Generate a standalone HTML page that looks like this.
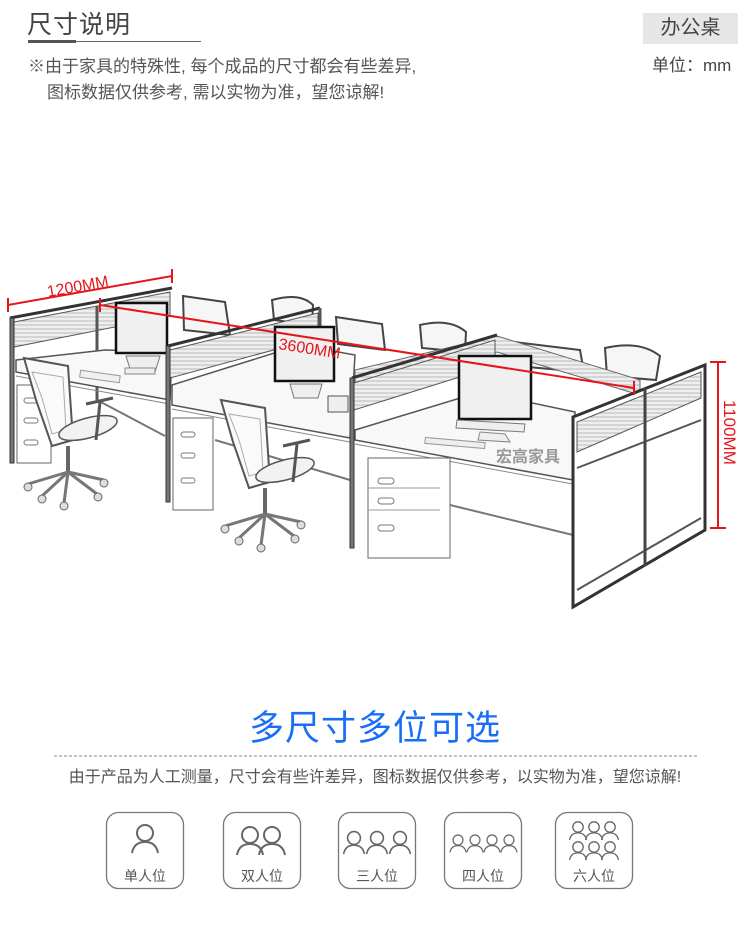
<!DOCTYPE html>
<html><head><meta charset="utf-8"><style>
body{margin:0;background:#fff;}
#w{position:relative;width:750px;height:941px;overflow:hidden;font-family:"Liberation Sans","Noto Sans CJK SC",sans-serif;color:#555;}
.a{position:absolute;white-space:nowrap;}
</style></head><body><div id="w">
<div class="a" style="left:27px;top:5px;font-size:25px;color:#444;letter-spacing:1px">尺寸说明</div>
<div class="a" style="left:28px;top:40px;width:48px;height:3px;background:#555"></div>
<div class="a" style="left:76px;top:41px;width:125px;height:1px;background:#666"></div>
<div class="a" style="left:28px;top:52px;font-size:17px">※由于家具的特殊性, 每个成品的尺寸都会有些差异,</div>
<div class="a" style="left:47px;top:78px;font-size:17px">图标数据仅供参考, 需以实物为准，望您谅解!</div>
<div class="a" style="left:643px;top:13px;width:95px;height:31px;background:#e6e6e6;font-size:20px;color:#444;text-align:center;line-height:31px">办公桌</div>
<div class="a" style="left:652px;top:51px;font-size:17px;color:#444">单位：mm</div>

<svg class="a" style="left:0;top:0" width="750" height="941" viewBox="0 0 750 941">
<defs>
<pattern id="gl" width="6" height="4" patternUnits="userSpaceOnUse"><rect width="6" height="4" fill="#eee"/><line x1="0" y1="1" x2="6" y2="1" stroke="#bbb" stroke-width="1"/></pattern>
<g id="ch">
<polygon points="24,358 68,366 73,440 52,446 36,400" fill="#fafafa" stroke="#555" stroke-width="2"/>
<polygon points="32,372 63,377 66,430 52,434 42,398" fill="none" stroke="#aaa" stroke-width="1"/>
<ellipse cx="88" cy="428" rx="30" ry="10" transform="rotate(-15 88 428)" fill="#f2f2f2" stroke="#555" stroke-width="1.5"/>
<path d="M86,404 L113,398 M100,402 L96,440" stroke="#555" stroke-width="3" fill="none"/>
<line x1="68" y1="446" x2="68" y2="472" stroke="#666" stroke-width="4"/>
<g stroke="#777" stroke-width="3" fill="none"><line x1="68" y1="472" x2="28" y2="484"/><line x1="68" y1="472" x2="42" y2="496"/><line x1="68" y1="472" x2="64" y2="503"/><line x1="68" y1="472" x2="97" y2="494"/><line x1="68" y1="472" x2="104" y2="480"/></g>
<g fill="#ddd" stroke="#666"><circle cx="28" cy="487" r="4"/><circle cx="42" cy="499" r="4"/><circle cx="64" cy="506" r="4"/><circle cx="98" cy="497" r="4"/><circle cx="104" cy="483" r="4"/></g>
</g>
</defs>
<g fill="#f6f6f6" stroke="#444" stroke-width="2">
<path d="M183,296 L225,302 L230,335 L184,330 Z"/>
<path d="M272,300 Q300,292 313,305 L312,325 L274,320 Z"/>
<path d="M336,317 L382,324 L385,350 L338,344 Z"/>
<path d="M420,325 Q450,318 466,332 L465,352 L422,348 Z"/>
<path d="M514,342 L580,350 L584,372 L516,366 Z"/>
<path d="M605,348 Q640,340 660,356 L656,380 L607,376 Z"/>
</g>
<polygon points="14,322 170,292 170,316 14,347" fill="url(#gl)" stroke="#555"/>
<line x1="10" y1="318" x2="172" y2="288" stroke="#333" stroke-width="3"/>
<rect x="10" y="318" width="4" height="145" fill="#777" stroke="#333"/>
<line x1="97" y1="306" x2="97" y2="400" stroke="#555" stroke-width="3"/>
<polygon points="16,360 105,350 172,352 170,400 16,372" fill="#f8f8f8" stroke="#555" stroke-width="1.5"/>
<line x1="16" y1="376" x2="170" y2="404" stroke="#888"/>
<line x1="97" y1="400" x2="165" y2="436" stroke="#777" stroke-width="2"/>
<rect x="17" y="385" width="34" height="78" fill="#fff" stroke="#666"/>
<g stroke="#777" fill="none"><rect x="24" y="398" width="14" height="5" rx="2.5"/><rect x="24" y="418" width="14" height="5" rx="2.5"/><rect x="24" y="440" width="14" height="5" rx="2.5"/></g>
<rect x="116" y="303" width="51" height="50" fill="#f0f0f0" stroke="#111" stroke-width="2.5"/>
<path d="M126,356 L160,356 L155,372 L131,372 Z" fill="#eee" stroke="#777"/>
<rect x="125" y="368" width="30" height="6" fill="#eee" stroke="#888"/>
<rect x="80" y="373" width="40" height="7" fill="#f0f0f0" stroke="#999" transform="rotate(8 100 376)"/>
<use href="#ch"/>
<polygon points="172,385 300,345 355,355 350,438 172,405" fill="#f8f8f8" stroke="#555" stroke-width="1.5"/>
<line x1="172" y1="409" x2="350" y2="442" stroke="#888"/>
<polygon points="170,350 318,313 318,338 170,378" fill="url(#gl)" stroke="#555"/>
<line x1="168" y1="346" x2="320" y2="308" stroke="#333" stroke-width="3"/>
<line x1="320" y1="308" x2="320" y2="340" stroke="#555" stroke-width="3"/>
<rect x="166" y="346" width="4" height="156" fill="#777" stroke="#333"/>
<line x1="215" y1="440" x2="350" y2="480" stroke="#777" stroke-width="2"/>
<rect x="173" y="418" width="40" height="92" fill="#fff" stroke="#666"/>
<g stroke="#777" fill="none"><rect x="181" y="432" width="14" height="5" rx="2.5"/><rect x="181" y="453" width="14" height="5" rx="2.5"/><rect x="181" y="478" width="14" height="5" rx="2.5"/></g>
<rect x="275" y="327" width="59" height="54" fill="#f0f0f0" stroke="#111" stroke-width="2.5"/>
<path d="M290,384 L322,384 L318,398 L294,398 Z" fill="#eee" stroke="#777"/>
<rect x="328" y="396" width="20" height="16" fill="#eee" stroke="#555"/>
<use href="#ch" transform="translate(197,42)"/>
<polygon points="355,370 497,336 640,380 640,395 497,352 355,395" fill="url(#gl)" stroke="#666"/>
<polygon points="355,430 480,392 575,412 573,480 355,440" fill="#f8f8f8" stroke="#555" stroke-width="1.5"/>
<line x1="355" y1="444" x2="573" y2="484" stroke="#888"/>
<line x1="450" y1="505" x2="573" y2="535" stroke="#777" stroke-width="2"/>
<polygon points="354,383 495,340 495,366 354,410" fill="url(#gl)" stroke="#555"/>
<line x1="352" y1="378" x2="497" y2="335" stroke="#333" stroke-width="3"/>
<rect x="350" y="378" width="4" height="170" fill="#777" stroke="#333"/>
<rect x="368" y="458" width="82" height="100" fill="#fff" stroke="#666"/>
<line x1="368" y1="488" x2="440" y2="488" stroke="#999"/><line x1="368" y1="510" x2="440" y2="510" stroke="#999"/>
<g stroke="#777" fill="none"><rect x="378" y="478" width="16" height="6" rx="3"/><rect x="378" y="498" width="16" height="6" rx="3"/><rect x="378" y="525" width="16" height="6" rx="3"/></g>
<rect x="459" y="356" width="72" height="63" fill="#f0f0f0" stroke="#111" stroke-width="2.5"/>
<path d="M457,420 L525,424 L524,432 L456,428 Z" fill="#eee" stroke="#777"/>
<path d="M480,432 L505,434 L510,442 L478,440 Z" fill="#eee" stroke="#888"/>
<rect x="425" y="440" width="60" height="6" fill="#eee" stroke="#999" transform="rotate(5 455 443)"/>
<text x="496" y="462" font-size="16" fill="#999" font-weight="bold" font-family="Liberation Sans,Noto Sans CJK SC,sans-serif">宏高家具</text>
<polygon points="573,417 705,365 705,530 573,607" fill="#fff" stroke="#333" stroke-width="3"/>
<polygon points="577,422 701,372 701,398 577,452" fill="url(#gl)" stroke="#555"/>
<line x1="577" y1="468" x2="701" y2="420" stroke="#555" stroke-width="2"/>
<line x1="577" y1="590" x2="701" y2="518" stroke="#555" stroke-width="2"/>
<line x1="645" y1="388" x2="645" y2="566" stroke="#444" stroke-width="3"/>
<g stroke="#e5151c" stroke-width="2">
<line x1="8" y1="305" x2="172" y2="276"/><line x1="8" y1="298" x2="8" y2="312"/><line x1="172" y1="269" x2="172" y2="283"/>
<line x1="100" y1="305" x2="634" y2="388"/><line x1="100" y1="298" x2="100" y2="312"/><line x1="634" y1="381" x2="634" y2="395"/>
<line x1="718" y1="362" x2="718" y2="528"/><line x1="710" y1="362" x2="726" y2="362"/><line x1="710" y1="528" x2="726" y2="528"/>
</g>
<g fill="#e5151c" font-size="16" font-family="Liberation Sans,sans-serif">
<text x="48" y="297" transform="rotate(-10 48 297)">1200MM</text>
<text x="278" y="349" transform="rotate(9 278 349)">3600MM</text>
<text x="724" y="400" font-size="17" transform="rotate(90 724 400)">1100MM</text>
</g>
<line x1="54" y1="756" x2="697" y2="756" stroke="#888" stroke-dasharray="3,2"/>
<g fill="#fff" stroke="#777" stroke-width="1.3">
<rect x="106.5" y="812.5" width="77" height="76" rx="12"/>
<rect x="223.5" y="812.5" width="77" height="76" rx="12"/>
<rect x="338.5" y="812.5" width="77" height="76" rx="12"/>
<rect x="444.5" y="812.5" width="77" height="76" rx="12"/>
<rect x="555.5" y="812.5" width="77" height="76" rx="12"/>
</g>
<defs><g id="p" fill="none" stroke="#666" stroke-width="2"><circle cx="0" cy="0" r="8"/><path d="M-13,20 Q-11,9 0,9 Q11,9 13,20"/></g></defs>
<use href="#p" transform="translate(145,833)"/>
<use href="#p" transform="translate(250,835)"/><use href="#p" transform="translate(272,835)"/>
<use href="#p" transform="translate(354,838) scale(0.8)"/><use href="#p" transform="translate(377,838) scale(0.8)"/><use href="#p" transform="translate(400,838) scale(0.8)"/>
<use href="#p" transform="translate(458,840) scale(0.62)"/><use href="#p" transform="translate(475,840) scale(0.62)"/><use href="#p" transform="translate(492,840) scale(0.62)"/><use href="#p" transform="translate(509,840) scale(0.62)"/>
<use href="#p" transform="translate(578,827) scale(0.65)"/><use href="#p" transform="translate(594,827) scale(0.65)"/><use href="#p" transform="translate(610,827) scale(0.65)"/>
<use href="#p" transform="translate(578,847) scale(0.65)"/><use href="#p" transform="translate(594,847) scale(0.65)"/><use href="#p" transform="translate(610,847) scale(0.65)"/>
</svg>
<div class="a" style="left:0;width:750px;top:700px;text-align:center;font-size:35px;color:#1a6ef5;letter-spacing:1px">多尺寸多位可选</div>
<div class="a" style="left:0;width:750px;top:763px;text-align:center;font-size:16px;color:#555">由于产品为人工测量，尺寸会有些许差异，图标数据仅供参考，以实物为准，望您谅解!</div>
<div class="a" style="left:106px;width:78px;top:866px;text-align:center;font-size:14px">单人位</div>
<div class="a" style="left:223px;width:78px;top:866px;text-align:center;font-size:14px">双人位</div>
<div class="a" style="left:338px;width:78px;top:866px;text-align:center;font-size:14px">三人位</div>
<div class="a" style="left:444px;width:78px;top:866px;text-align:center;font-size:14px">四人位</div>
<div class="a" style="left:555px;width:78px;top:866px;text-align:center;font-size:14px">六人位</div>
</div></body></html>
